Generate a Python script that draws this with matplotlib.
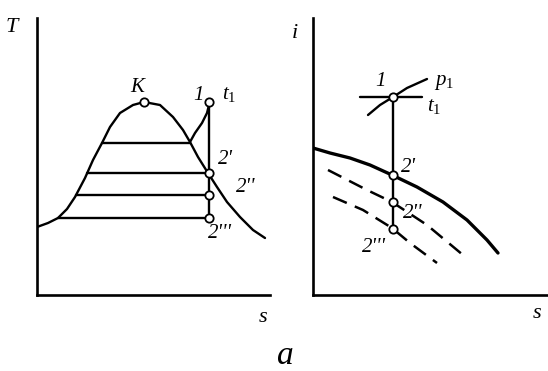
import matplotlib
matplotlib.use("Agg")
import matplotlib.pyplot as plt

plt.rcParams['font.family'] = 'Liberation Serif'
plt.rcParams['mathtext.fontset'] = 'custom'
plt.rcParams['mathtext.it'] = 'Liberation Serif:italic'
plt.rcParams['mathtext.rm'] = 'Liberation Serif'

# T-s diagram: saturation dome (s, T)
dome_s = [0, 11, 21, 30, 38, 48, 56, 65, 73, 83, 96, 107, 123, 136, 146, 153, 161, 171, 180, 190, 203, 216, 228]
dome_T = [68, 72, 77, 86, 98, 117, 135, 152, 168, 182, 190, 193, 190, 178, 165, 153, 138, 122, 108, 93, 78, 65, 57]
# wet-steam isobars: temperature, left end, right end
wet_T = [152, 122, 100, 77]
wet_s_left = [65, 50, 39, 21]
wet_s_right = [153, 171, 171, 171]
# superheated isobar up to state 1
sup_s = [153, 158, 165, 170, 172]
sup_T = [153, 162, 172, 182, 190]
K_pt = (107, 193)
ts_s1 = 172
ts_T1 = 193
ts_T2 = [122, 100, 77]

# i-s diagram: saturation line and lower isobars
sat_s = [0, 17, 37, 57, 79, 104, 130, 154, 174, 185]
sat_i = [147, 142, 137, 130, 120, 108, 93, 75, 55, 42]
dash1_s = [15, 54, 79, 114, 150]
dash1_i = [125, 105, 93, 70, 40]
dash2_s = [20, 50, 79, 97, 124]
dash2_i = [98, 85, 67, 52, 32]
p1_s = [55, 67, 80, 94, 114]
p1_i = [180, 190, 198, 207, 216]
t1_s = [47, 109]
is_s1 = 80
is_i1 = 198
is_i2 = [120, 93, 66]

fig = plt.figure(figsize=(5.48, 3.71), dpi=100)
W, H = 548.0, 371.0


def make_axes(x0, x1):
    ax = fig.add_axes([x0 / W, (H - 295) / H, (x1 - x0) / W, (295 - 18) / H])
    ax.set_xlim(0, x1 - x0)
    ax.set_ylim(0, 277)
    for side in ['top', 'right']:
        ax.spines[side].set_visible(False)
    for side in ['left', 'bottom']:
        ax.spines[side].set_linewidth(1.9)
    ax.set_xticks([])
    ax.set_yticks([])
    ax.patch.set_alpha(0)
    return ax


txt = dict(fontsize=15, style='italic', ha='center', va='center')
circ = dict(marker='o', ms=6, mfc='white', mec='black', mew=1.3, ls='none', zorder=5)
line = dict(color='black', lw=1.7, solid_joinstyle='round', solid_capstyle='round')

# left: T-s
ax1 = make_axes(37, 270)
ax1.plot(dome_s, dome_T, **line)
for T, a, b in zip(wet_T, wet_s_left, wet_s_right):
    ax1.plot([a, b], [T, T], **line)
ax1.plot(sup_s, sup_T, **line)
ax1.plot([ts_s1, ts_s1], [ts_T1, ts_T2[-1]], **line)
ax1.plot([K_pt[0]], [K_pt[1]], **circ)
ax1.plot([ts_s1], [ts_T1], **circ)
ax1.plot([ts_s1] * 3, ts_T2, **circ)
ax1.text(100, 208, 'K', **txt)
ax1.text(162, 199, '1', **txt)
ax1.text(192, 200, r'$t_\mathrm{1}$', **txt)
ax1.text(188, 135, "2'", **txt)
ax1.text(209, 108, "2''", **txt)
ax1.text(183, 62, "2'''", **txt)
ax1.text(-25, 267, 'T', clip_on=False, fontsize=16, style='italic', ha='center', va='center')
ax1.text(226, -22, 's', clip_on=False, fontsize=16, style='italic', ha='center', va='center')

# right: i-s
ax2 = make_axes(313, 547)
ax2.plot(sat_s, sat_i, color='black', lw=2.4, solid_joinstyle='round', solid_capstyle='round')
ax2.plot(dash1_s, dash1_i, color='black', lw=1.8, dashes=(6, 3.5))
ax2.plot(dash2_s, dash2_i, color='black', lw=1.8, dashes=(6, 3.5))
ax2.plot(p1_s, p1_i, **line)
ax2.plot(t1_s, [is_i1, is_i1], **line)
ax2.plot([is_s1, is_s1], [is_i1, is_i2[-1]], **line)
ax2.plot([is_s1], [is_i1], **circ)
ax2.plot([is_s1] * 3, is_i2, **circ)
ax2.text(67, 213, '1', **txt)
ax2.text(131, 213, r'$p_\mathrm{1}$', **txt)
ax2.text(121, 188, r'$t_\mathrm{1}$', **txt)
ax2.text(95, 128, "2'", **txt)
ax2.text(100, 82, "2''", **txt)
ax2.text(61, 48, "2'''", **txt)
ax2.text(-18, 262, 'i', clip_on=False, fontsize=16, style='italic', ha='center', va='center')
ax2.text(224, -18, 's', clip_on=False, fontsize=16, style='italic', ha='center', va='center')

fig.text(285 / W, 1 - 356 / H, 'a', fontsize=24, style='italic', ha='center', va='center')

fig.savefig('out.png', dpi=100)
